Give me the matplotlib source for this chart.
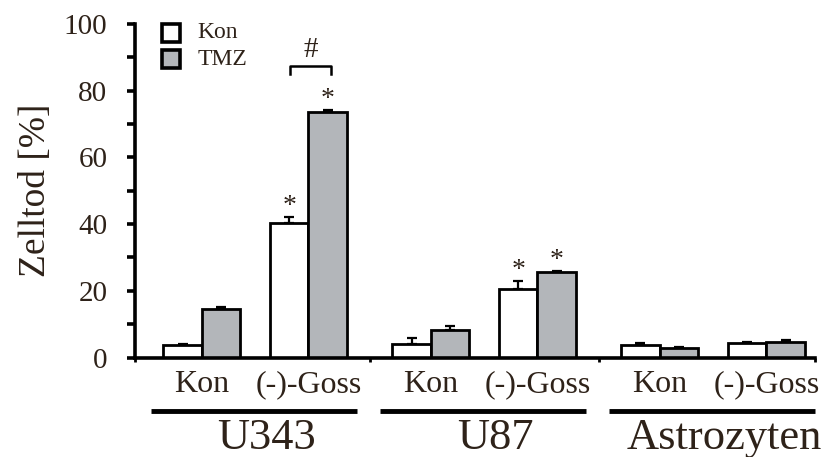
import numpy as np
import matplotlib
matplotlib.use("Agg")
import matplotlib.pyplot as plt
from matplotlib.patches import Rectangle
from matplotlib.transforms import blended_transform_factory

plt.rcParams['font.family'] = ['Liberation Serif', 'DejaVu Serif']

# cell lines, treatment pairs, and means / upper SD for control vs TMZ
groups = ["U343", "U87", "Astrozyten"]
treatments = ["Kon", "(-)-Goss"]
kon_mean = [3.7, 40.4, 4.0, 20.6, 3.75, 4.25]
kon_err = [0.5, 1.6, 1.9, 2.4, 0.5, 0.3]
tmz_mean = [14.5, 73.5, 8.3, 25.5, 2.9, 4.75]
tmz_err = [0.6, 0.7, 1.1, 0.5, 0.3, 0.5]
# significance stars (index into the bar lists)
kon_star = [False, True, False, True, False, False]
tmz_star = [False, True, False, True, False, False]

text_col = "#2e2219"
gray = "#b3b6ba"
bw = 0.17
pitch = 1.01
offsets = [0.125, 0.595]

fig = plt.figure(figsize=(8.32, 4.57), dpi=100)
ax = fig.add_axes([0.1623, 0.2177, 0.8173, 0.7298])

x_left = np.array([g * pitch + o for g in range(len(groups)) for o in offsets])
x_kon = x_left + bw / 2
x_tmz = x_left + 1.5 * bw

ax.bar(x_kon, kon_mean, width=bw, color="white", edgecolor="black", linewidth=2.0, zorder=2)
ax.bar(x_tmz, tmz_mean, width=bw, color=gray, edgecolor="black", linewidth=2.0, zorder=2)
zeros = np.zeros(len(kon_mean))
ax.errorbar(x_kon, kon_mean, yerr=[zeros, kon_err], fmt="none", ecolor="black",
            elinewidth=1.6, capsize=3.5, capthick=1.6, zorder=1)
ax.errorbar(x_tmz, tmz_mean, yerr=[zeros, tmz_err], fmt="none", ecolor="black",
            elinewidth=1.6, capsize=3.5, capthick=1.6, zorder=1)

for i in range(len(kon_mean)):
    if kon_star[i]:
        ax.text(x_kon[i], kon_mean[i] + kon_err[i] - 0.6, "*", ha="center", va="bottom",
                fontsize=20, color=text_col)
    if tmz_star[i]:
        ax.text(x_tmz[i], tmz_mean[i] + tmz_err[i] - 0.6, "*", ha="center", va="bottom",
                fontsize=20, color=text_col)

# bracket between U343 Goss bars
bx0, bx1 = x_kon[1] + 0.005, x_tmz[1] + 0.015
ax.plot([bx0, bx0, bx1, bx1], [85.0, 87.4, 87.4, 85.0], color="black", lw=1.8,
        clip_on=False, zorder=3)
ax.text((bx0 + bx1) / 2, 88.3, "#", ha="center", va="bottom", fontsize=21, color=text_col)

# group boundaries on the x axis
bounds = [0]
for g in range(1, len(groups)):
    prev_end = (g - 1) * pitch + offsets[1] + 2 * bw
    next_start = g * pitch + offsets[0]
    bounds.append((prev_end + next_start) / 2)
bounds.append(3)

ax.set_xlim(0, 3)
ax.set_ylim(0, 100)
ax.set_yticks(np.arange(0, 101, 20))
ax.set_yticks(np.arange(10, 100, 20), minor=True)
ax.set_xticks(bounds)
ax.set_xticklabels([])
ax.tick_params(axis="y", which="both", direction="out", length=6, width=2.6, pad=14,
               labelsize=21, labelcolor=text_col)
ax.tick_params(axis="x", direction="out", length=3, width=2.0)
for s in ["top", "right"]:
    ax.spines[s].set_visible(False)
ax.spines["left"].set_linewidth(2.6)
ax.spines["bottom"].set_linewidth(2.6)
ax.set_ylabel("Zelltod [%]", fontsize=27, color=text_col, labelpad=8)

# treatment labels, underlines and cell line names
tr = blended_transform_factory(ax.transData, ax.transAxes)
for g, name in enumerate(groups):
    g0 = g * pitch
    for j, t in enumerate(treatments):
        xc = g0 + offsets[j] + bw
        ax.text(xc, -0.082, t, transform=tr, ha="center", va="center",
                fontsize=23, color=text_col)
    ax.plot([g0 + 0.07, g0 + 0.98], [-0.16, -0.16], transform=tr, color="black",
            lw=3.5, clip_on=False, solid_capstyle="butt")
    ax.text(g0 + 0.58, -0.24, name, transform=tr, ha="center", va="center",
            fontsize=32, color=text_col)

# legend squares
for k, (lab, fc) in enumerate([("Kon", "white"), ("TMZ", gray)]):
    y0 = 0.946 - k * 0.078
    ax.add_patch(Rectangle((0.04, y0), 0.0265, 0.054, transform=ax.transAxes,
                           facecolor=fc, edgecolor="black", lw=2.6, clip_on=False))
    ax.text(0.092, y0 + 0.027, lab, transform=ax.transAxes, ha="left", va="center",
            fontsize=17, color=text_col)

fig.savefig("out.png", dpi=100)
